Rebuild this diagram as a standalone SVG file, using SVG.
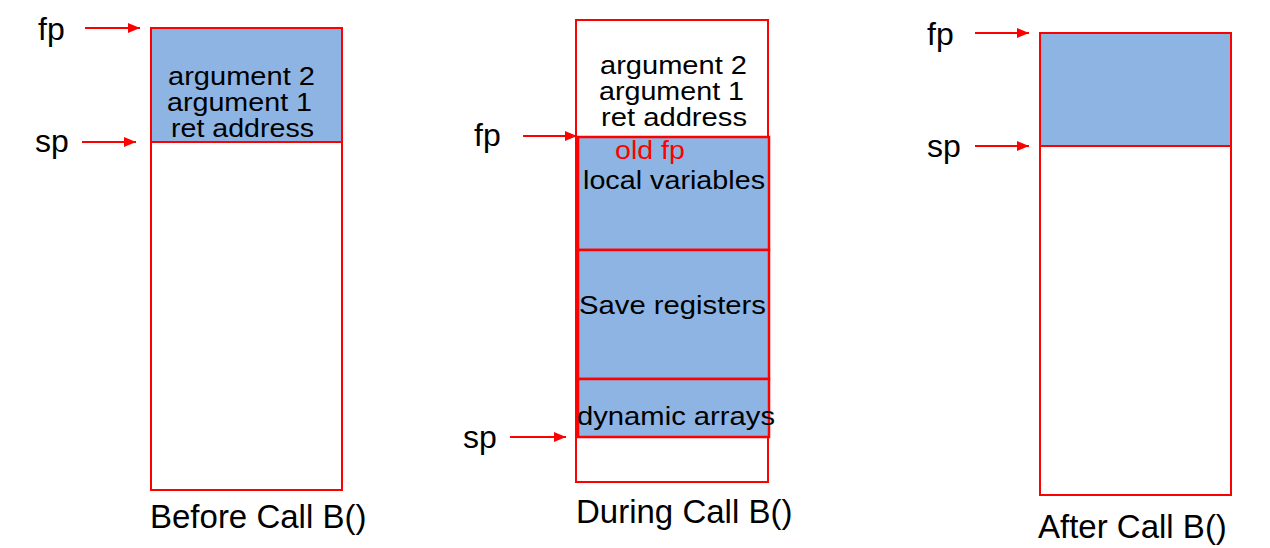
<svg xmlns="http://www.w3.org/2000/svg" width="1270" height="548" viewBox="0 0 1270 548">
<style>
.frame{fill:none;stroke:#FF0000;stroke-width:2}
.blue{fill:#8EB4E3;stroke:#FF0000;stroke-width:2}
.blueb{fill:#8EB4E3;stroke:#FF0000;stroke-width:2.5}
.lbl{font-family:"Liberation Sans",Arial,sans-serif;font-size:32px;fill:#000}
.cap{font-family:"Liberation Sans",Arial,sans-serif;font-size:33px;fill:#000}
.in{font-family:"Liberation Sans",Arial,sans-serif;font-size:25px;fill:#000}
.red{fill:#FF0000}
.arr{stroke:#FF0000;stroke-width:2;fill:none;marker-end:url(#ah)}
</style>
<defs>
<marker id="ah" markerUnits="userSpaceOnUse" markerWidth="12" markerHeight="10" refX="12" refY="5" orient="auto">
<path d="M0,0 L12,5 L0,10 Z" fill="#FF0000"/>
</marker>
</defs>
<rect width="1270" height="548" fill="#fff"/>

<g id="before">
<rect class="blue" x="151" y="28" width="191" height="114"/>
<rect class="frame" x="151" y="28" width="191" height="462"/>
<text class="in" x="168" y="85" textLength="147" lengthAdjust="spacingAndGlyphs">argument 2</text>
<text class="in" x="167" y="111" textLength="145" lengthAdjust="spacingAndGlyphs">argument 1</text>
<text class="in" x="171" y="137" textLength="143" lengthAdjust="spacingAndGlyphs">ret address</text>
<text class="lbl" x="38" y="40">fp</text>
<text class="lbl" x="35" y="152">sp</text>
<text class="cap" x="150" y="528">Before Call B()</text>
</g>

<g id="during">
<rect class="frame" x="576" y="20" width="192" height="462"/>
<rect class="blueb" x="578" y="137" width="191" height="113"/>
<rect class="blueb" x="578" y="250" width="191" height="129"/>
<rect class="blueb" x="578" y="379" width="191" height="58"/>
<text class="in" x="600" y="74" textLength="147" lengthAdjust="spacingAndGlyphs">argument 2</text>
<text class="in" x="599" y="100" textLength="145" lengthAdjust="spacingAndGlyphs">argument 1</text>
<text class="in" x="601" y="126" textLength="146" lengthAdjust="spacingAndGlyphs">ret address</text>
<text class="in red" x="615" y="159" textLength="70" lengthAdjust="spacingAndGlyphs">old fp</text>
<text class="in" x="583" y="189" textLength="182" lengthAdjust="spacingAndGlyphs">local variables</text>
<text class="in" x="579" y="314" textLength="187" lengthAdjust="spacingAndGlyphs">Save registers</text>
<text class="in" x="577" y="425" textLength="198" lengthAdjust="spacingAndGlyphs">dynamic arrays</text>
<text class="lbl" x="474" y="146">fp</text>
<text class="lbl" x="463" y="448">sp</text>
<text class="cap" x="576" y="523">During Call B()</text>
</g>

<g id="after">
<rect class="blue" x="1040" y="33" width="191" height="113"/>
<rect class="frame" x="1040" y="33" width="191" height="462"/>
<text class="lbl" x="927" y="45">fp</text>
<text class="lbl" x="927" y="157">sp</text>
<text class="cap" x="1038" y="538">After Call B()</text>
</g>

<g id="connectors">
<line class="arr" x1="85" y1="28" x2="140" y2="28"/>
<line class="arr" x1="82" y1="142" x2="136" y2="142"/>
<line class="arr" x1="523" y1="136" x2="577" y2="136"/>
<line class="arr" x1="510" y1="437" x2="566" y2="437"/>
<line class="arr" x1="975" y1="33" x2="1029" y2="33"/>
<line class="arr" x1="975" y1="146" x2="1029" y2="146"/>
</g>
</svg>
